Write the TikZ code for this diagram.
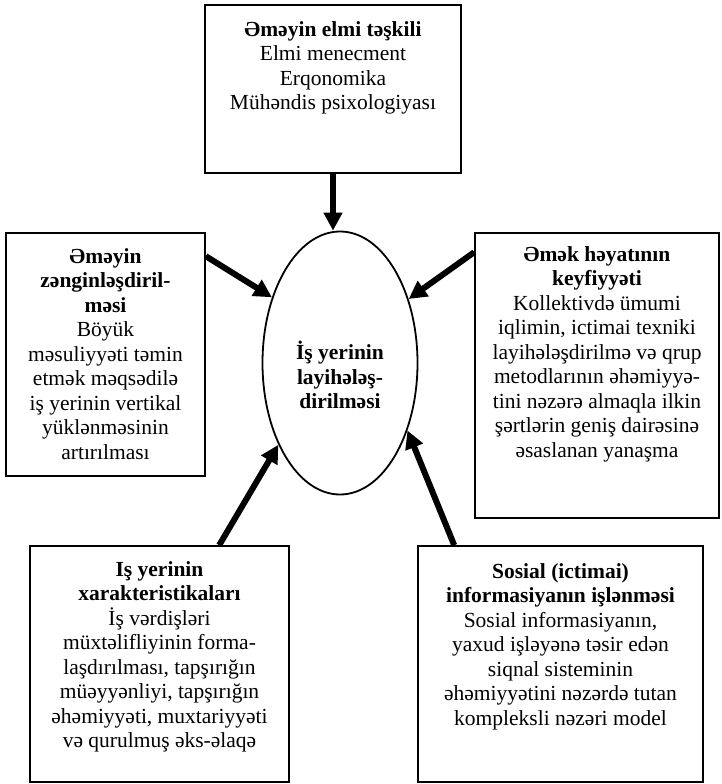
\documentclass[tikz,border=0pt]{standalone}
\usepackage{fontspec}
\setmainfont{Liberation Serif}
\usetikzlibrary{arrows.meta,calc,shapes.geometric}
\begin{document}
\begin{tikzpicture}[x=1pt,y=-1pt,
  box/.style={draw=black,line width=1.6pt,rectangle,inner sep=0pt},
  ellbox/.style={draw=black,line width=1.8pt,ellipse,inner sep=0pt},
  txt/.style={align=center,inner sep=0pt,anchor=north,font=\fontsize{21.5}{24.5}\selectfont},
  ctxt/.style={align=center,inner sep=0pt,font=\fontsize{21.5}{24.5}\selectfont\bfseries},
  arr/.style={line width=6pt,-{Triangle[length=18pt,width=18pt]}}]
\useasboundingbox (0,0) rectangle (721,784);
% boxes
\node[box,minimum width=256pt,minimum height=168pt] (tbox) at (333,89) {};
\node[box,minimum width=199pt,minimum height=243pt] (lbox) at (105.5,354.5) {};
\node[box,minimum width=244pt,minimum height=285pt] (rbox) at (597,375.5) {};
\node[box,minimum width=259pt,minimum height=236pt] (blbox) at (159.5,664) {};
\node[box,minimum width=285pt,minimum height=236pt] (brbox) at (560.5,664) {};
\node[ellbox,minimum width=155pt,minimum height=263pt] (ell) at (340,363) {};
% texts
\node[txt] (ttxt) at ($(tbox.north)+(0,17)$) {\textbf{Əməyin elmi təşkili}\\Elmi menecment\\Erqonomika\\Mühəndis psixologiyası};
\node[txt] (ltxt) at ($(lbox.north)+(0,16)$) {\textbf{Əməyin}\\\textbf{zənginləşdiril-}\\\textbf{məsi}\\Böyük\\məsuliyyəti təmin\\etmək məqsədilə\\iş yerinin vertikal\\yüklənməsinin\\artırılması};
\node[txt] (rtxt) at ($(rbox.north)+(0,14)$) {\textbf{Əmək həyatının}\\\textbf{keyfiyyəti}\\Kollektivdə ümumi\\iqlimin, ictimai texniki\\layihələşdirilmə və qrup\\metodlarının əhəmiyyə-\\tini nəzərə almaqla ilkin\\şərtlərin geniş dairəsinə\\əsaslanan yanaşma};
\node[txt] (bltxt) at ($(blbox.north)+(0,16)$) {\textbf{Iş yerinin}\\\textbf{xarakteristikaları}\\İş vərdişləri\\müxtəlifliyinin forma-\\laşdırılması, tapşırığın\\müəyyənliyi, tapşırığın\\əhəmiyyəti, muxtariyyəti\\və qurulmuş əks-əlaqə};
\node[txt] (brtxt) at ($(brbox.north)+(0,18)$) {\textbf{Sosial (ictimai)}\\\textbf{informasiyanın işlənməsi}\\Sosial informasiyanın,\\yaxud işləyənə təsir edən\\siqnal sisteminin\\əhəmiyyətini nəzərdə tutan\\kompleksli nəzəri model};
\node[ctxt] (etxt) at (340,375) {İş yerinin\\layihələş-\\dirilməsi};
% arrows
\draw[arr] (tbox.south) -- (tbox.south |- ell.north);
\draw[arr] ($(lbox.north east)+(0,24)$) -- (ell.136);
\draw[arr] ($(rbox.north west)+(0,20)$) -- (ell.43);
\draw[arr] ($(blbox.north west)+(190,0)$) -- (ell.233);
\draw[arr] ($(brbox.north west)+(37,0)$) -- (ell.315);
\end{tikzpicture}
\end{document}
